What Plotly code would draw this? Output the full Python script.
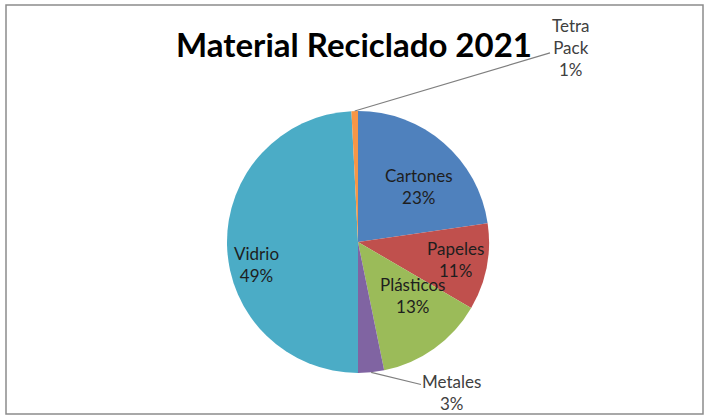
import math
import plotly.graph_objects as go

# ---- data ----
labels = ["Cartones", "Papeles", "Plásticos", "Metales", "Vidrio", "Tetra Pack"]
values = [22.7, 10.7, 13.4, 3.2, 49.2, 0.8]
colors = ["#4F81BD", "#C0504D", "#9BBB59", "#8064A2", "#4BACC6", "#F79646"]
title_text = "Material Reciclado 2021"

W, H = 706, 417
CX, CY, R = 358, 242, 131  # pie centre / radius in pixels

FONT = "Lato"
LFS = 17

fig = go.Figure()
fig.add_trace(go.Pie(
    labels=labels,
    values=values,
    sort=False,
    direction="clockwise",
    rotation=0,
    marker=dict(colors=colors, line=dict(width=0)),
    textinfo="none",
    hoverinfo="label+percent",
    showlegend=False,
    domain=dict(x=[(CX - R) / W, (CX + R) / W],
                y=[1 - (CY + R) / H, 1 - (CY - R) / H]),
))

total = sum(values)
pct = [f"{round(v / total * 100):.0f}%" for v in values]

def px2paper(x, y):
    return x / W, 1 - y / H

# inside labels (positions of the text, in pixels)
inside_pos = {"Cartones": (419, 186), "Papeles": (455, 259),
              "Plásticos": (413, 319), "Vidrio": (256, 264)}
for i, lab in enumerate(labels):
    if lab in inside_pos:
        x, y = px2paper(*inside_pos[lab])
        fig.add_annotation(x=x, y=y, xref="paper", yref="paper",
                           text=f"{lab}<br>{pct[i]}", showarrow=False,
                           font=dict(family=FONT, size=LFS, color="#1e1e1e"),
                           align="center")

# outside labels with leader lines, tip at slice mid-angle on the rim
cum = 0
mids = []
for v in values:
    mids.append((cum + v / 2) / total * 2 * math.pi)
    cum += v

outside = {"Metales": ("Metales", (452, 392)),
           "Tetra Pack": ("Tetra<br>Pack", (570, 47))}
for i, lab in enumerate(labels):
    if lab in outside:
        txt, (tx, ty) = outside[lab]
        a = mids[i]
        px = CX + R * math.sin(a)
        py = CY - R * math.cos(a)
        x, y = px2paper(px, py)
        fig.add_annotation(x=x, y=y, xref="paper", yref="paper",
                           text=f"{txt}<br>{pct[i]}", showarrow=True,
                           arrowhead=0, arrowwidth=1.2, arrowcolor="#7f7f7f",
                           ax=tx - px, ay=ty - py,
                           font=dict(family=FONT, size=LFS, color="#404040"),
                           align="center")

fig.add_shape(type="rect", xref="paper", yref="paper",
              x0=6 / W, x1=703 / W, y0=1 - 414 / H, y1=1 - 5 / H,
              line=dict(color="#8c8c8c", width=1.5))

fig.update_layout(
    width=W, height=H,
    margin=dict(l=0, r=0, t=0, b=0),
    paper_bgcolor="white",
    plot_bgcolor="white",
    title=dict(text=f"<b>{title_text}</b>", x=354 / W, xanchor="center",
               y=1 - 45 / H, yanchor="middle",
               font=dict(family=FONT, size=33, color="#000000")),
)

fig.write_html("out.html",
               config={"displayModeBar": False},
               post_script="document.body.style.margin='0';"
                           "document.body.style.overflow='hidden';")
